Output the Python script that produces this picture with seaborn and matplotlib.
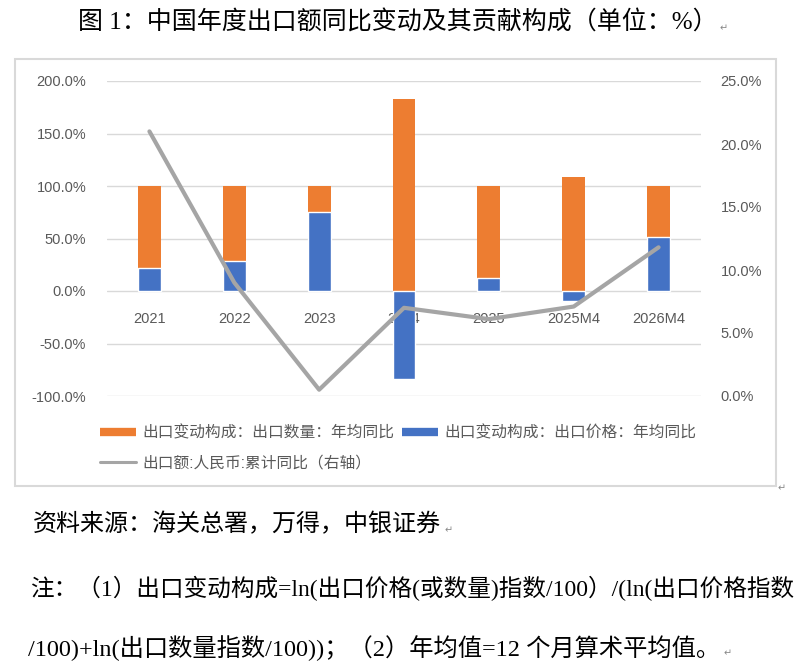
import numpy as np
import pandas as pd
import matplotlib
matplotlib.use('Agg')
import matplotlib.pyplot as plt
import seaborn as sns
from matplotlib.lines import Line2D
from matplotlib.patches import Rectangle

categories = ['2021', '2022', '2023', '2024', '2025', '2025M4', '2026M4']
price_contrib = [21.9, 28.3, 75.0, -83.8, 12.8, -9.3, 51.4]
quantity_contrib = [78.1, 71.7, 25.0, 182.9, 87.2, 108.6, 48.6]
export_yoy = [21.0, 9.0, 0.5, 7.0, 6.1, 7.1, 11.8]
left_ticks = [-100, -50, 0, 50, 100, 150, 200]
right_ticks = [0, 5, 10, 15, 20, 25]

label_qty = '出口变动构成：出口数量：年均同比'
label_price = '出口变动构成：出口价格：年均同比'
label_line = '出口额:人民币:累计同比（右轴）'

ORANGE = '#ED7D31'
BLUE = '#4472C4'
GRAY = '#A5A5A5'
TXT = '#595959'

sns.set_theme(style='white')
plt.rcParams['font.family'] = ['Liberation Sans', 'Noto Sans CJK SC', 'DejaVu Sans']

fig = plt.figure(figsize=(8.12, 6.68), dpi=100)
W, H = 812, 668
ax = fig.add_axes([107 / W, 1 - 396 / H, 594 / W, 315 / H])

df = pd.DataFrame({'cat': categories, 'price': price_contrib, 'qty': quantity_contrib})
df['top'] = df['price'].clip(lower=0) + df['qty']

sns.barplot(data=df, x='cat', y='top', color=ORANGE, width=0.27, saturation=1,
            errorbar=None, ax=ax, edgecolor='none')
sns.barplot(data=df, x='cat', y='price', color=BLUE, width=0.27, saturation=1,
            errorbar=None, ax=ax, edgecolor='white', linewidth=1)

ax.set_ylim(-100, 200)
ax.set_xlim(-0.5, len(categories) - 0.5)
ax.set_yticks(left_ticks)
ax.set_yticklabels([f'{v:.1f}%' for v in left_ticks])
ax.yaxis.grid(True, color='#D9D9D9', lw=1)
ax.set_axisbelow(True)
for s in ax.spines.values():
    s.set_visible(False)
ax.spines['bottom'].set_position(('data', 0))
ax.set_xlabel('')
ax.set_ylabel('')
ax.tick_params(axis='y', length=0, labelsize=10.5, labelcolor=TXT, pad=15)
ax.tick_params(axis='x', length=0, labelsize=10.5, labelcolor=TXT, pad=15)

ax2 = ax.twinx()
sns.lineplot(x=np.arange(len(categories)), y=export_yoy, ax=ax2, color=GRAY, lw=3)
ax2.set_ylim(0, 25)
ax2.set_xlim(-0.5, len(categories) - 0.5)
ax2.set_yticks(right_ticks)
ax2.set_yticklabels([f'{v:.1f}%' for v in right_ticks])
for s in ax2.spines.values():
    s.set_visible(False)
ax2.tick_params(axis='y', length=0, labelsize=10.5, labelcolor=TXT, pad=14)
ax2.set_ylabel('')
ax2.grid(False)

handles = [Line2D([], [], color=ORANGE, lw=6, solid_capstyle='butt'),
           Line2D([], [], color=GRAY, lw=2.2),
           Line2D([], [], color=BLUE, lw=6, solid_capstyle='butt')]
fig.legend(handles=handles, labels=[label_qty, label_line, label_price],
           ncol=2, loc='upper left', bbox_to_anchor=(94 / W, 1 - 419 / H), frameon=False,
           fontsize=11.3, handlelength=2.3, handletextpad=0.4, columnspacing=0.45,
           labelcolor=TXT, borderaxespad=0, labelspacing=0.95)

fig.add_artist(Rectangle((15 / W, 1 - 486 / H), (776 - 15) / W, (486 - 59) / H,
                         transform=fig.transFigure, fill=False, edgecolor='#D9D9D9', lw=1.5))

serif = ['Liberation Serif', 'Noto Sans CJK SC', 'DejaVu Sans']
fig.text(78 / W, 1 - 23 / H, '图 1：中国年度出口额同比变动及其贡献构成（单位：%）',
         family=serif, fontsize=18, va='center', ha='left', color='black')
fig.text(33 / W, 1 - 525 / H, '资料来源：海关总署，万得，中银证券',
         family=serif, fontsize=17.3, va='center', ha='left', color='black')
fig.text(30 / W, 1 - 588 / H, '注：（1）出口变动构成=ln(出口价格(或数量)指数/100）/(ln(出口价格指数',
         family=serif, fontsize=17.0, va='center', ha='left', color='black')
fig.text(28 / W, 1 - 648 / H, '/100)+ln(出口数量指数/100))；（2）年均值=12 个月算术平均值。',
         family=serif, fontsize=17.5, va='center', ha='left', color='black')

arrow = '\u21b5'
for (x, y) in [(720, 28), (445, 530), (724, 653), (778, 488)]:
    fig.text(x / W, 1 - y / H, arrow, family=['DejaVu Sans'], fontsize=7,
             color='#888888', va='center', ha='left')

fig.savefig('out.png', dpi=100)
